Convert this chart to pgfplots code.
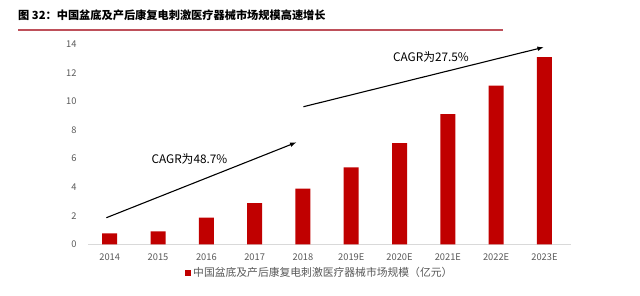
\documentclass[border=0pt]{standalone}
\usepackage{pgfplots}
\pgfplotsset{compat=1.18}
\usepackage{fontspec}
\setmainfont{Noto Sans CJK SC}
\definecolor{barred}{RGB}{192,0,0}
\definecolor{ticktxt}{RGB}{89,89,89}
\definecolor{axisgray}{RGB}{217,217,217}
\definecolor{rule}{RGB}{190,80,90}
\begin{document}
\begin{tikzpicture}
\path[use as bounding box] (0,0) rectangle (640bp,296bp);
\node[anchor=west,font=\fontsize{11.2bp}{13bp}\selectfont\bfseries,inner sep=0pt] at (18bp,281bp) {图 32：中国盆底及产后康复电刺激医疗器械市场规模高速增长};
\draw[rule,line width=1.5bp] (18bp,266bp) -- (503bp,266bp);
\begin{axis}[
  at={(88bp,51.7bp)}, anchor=south west,
  scale only axis, width=483bp, height=200bp,
  xmin=-0.45, xmax=9.55, ymin=0, ymax=14,
  axis x line*=bottom, axis y line=none,
  x axis line style={axisgray,line width=0.8bp,-},
  xtick={0,...,9},
  xticklabels={2014,2015,2016,2017,2018,2019E,2020E,2021E,2022E,2023E},
  major tick length=0pt,
  ytick={0,2,...,14},
  tick label style={font=\fontsize{9.3bp}{11bp}\selectfont, text=ticktxt},
  /pgf/number format/assume math mode=true,
  xticklabel style={yshift=-6bp},
  clip=false,
  legend style={draw=none, at={(0.48,-0.105)}, anchor=north,
    font=\fontsize{10.8bp}{12bp}\selectfont, text=ticktxt,
    inner sep=0pt, legend cell align=left},
  legend image code/.code={\fill[barred] (0bp,-3bp) rectangle (6bp,3bp);},
]
\addplot[ybar, bar width=15bp, fill=barred, draw=none] coordinates {
 (0,0.77) (1,0.90) (2,1.86) (3,2.89) (4,3.90) (5,5.38) (6,7.08) (7,9.11) (8,11.10) (9,13.10)};
\addlegendentry{中国盆底及产后康复电刺激医疗器械市场规模（亿元）}
% y tick labels (axis line hidden)
\pgfplotsinvokeforeach{0,2,...,14}{
  \node[anchor=east, font=\fontsize{9.3bp}{11bp}\selectfont, text=ticktxt] at (axis cs:-0.45,#1) [xshift=-8bp] {#1};
}
\draw[-latex, black, line width=1.1bp] (axis cs:-0.07,1.86) -- (axis cs:3.86,7.13);
\draw[-latex, black, line width=1.1bp] (axis cs:4.01,9.63) -- (axis cs:8.98,13.79);
\node[font=\fontsize{11.8bp}{13bp}\selectfont] at (axis cs:1.65,5.95) {CAGR为48.7\%};
\node[font=\fontsize{11.8bp}{13bp}\selectfont] at (axis cs:6.65,13.13) {CAGR为27.5\%};
\end{axis}
\end{tikzpicture}
\end{document}
